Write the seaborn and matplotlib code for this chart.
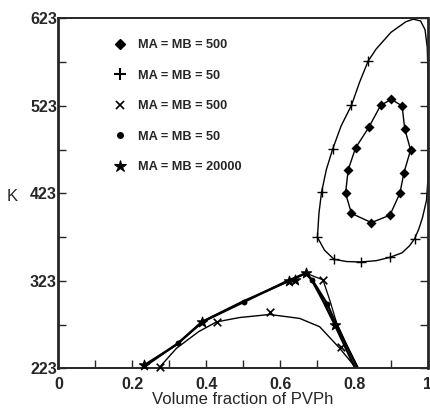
import matplotlib
matplotlib.use("Agg")
import matplotlib.pyplot as plt
from matplotlib.lines import Line2D
import seaborn as sns
import pandas as pd

# ---- data ----
# MA = MB = 500 closed loop (diamonds)
dia_x = [0.901, 0.930, 0.937, 0.953, 0.935, 0.924, 0.897, 0.847, 0.793, 0.777, 0.784, 0.804, 0.840, 0.872, 0.901]
dia_k = [530.4, 522.8, 496.9, 472.5, 446.6, 423.0, 398.0, 389.5, 400.0, 423.0, 449.6, 474.8, 498.4, 523.6, 530.4]

# MA = MB = 50 closed loop (plus) - curve vertices
plus_curve_x = [0.701, 0.705, 0.712, 0.725, 0.742, 0.765, 0.793, 0.815, 0.838, 0.860, 0.900, 0.940, 0.960, 0.980, 0.992, 0.998, 1.000, 1.000, 0.996, 0.985, 0.975, 0.964, 0.950, 0.930, 0.897, 0.860, 0.818, 0.780, 0.746, 0.720, 0.701]
plus_curve_k = [372.7, 400.0, 424.0, 450.0, 473.3, 500.0, 523.6, 550.0, 574.0, 588.0, 607.0, 619.0, 622.0, 620.0, 610.0, 590.0, 560.0, 440.0, 415.0, 395.0, 382.0, 371.2, 363.0, 355.0, 349.8, 346.0, 344.5, 345.0, 347.5, 358.0, 372.7]
plus_mk_x = [0.701, 0.746, 0.818, 0.897, 0.964, 0.712, 0.742, 0.793, 0.838]
plus_mk_k = [372.7, 347.5, 344.5, 349.8, 371.2, 424.5, 473.3, 523.6, 573.9]

# MA = MB = 500 lower curve (x markers)
xs_curve_x = [0.275, 0.320, 0.380, 0.428, 0.490, 0.572, 0.653, 0.707, 0.761, 0.806]
xs_curve_k = [224.8, 246.0, 265.0, 276.0, 281.0, 284.5, 280.0, 270.5, 246.0, 223.0]
xs_branch_x = [0.671, 0.716, 0.735, 0.752, 0.780, 0.812]
xs_branch_k = [331.5, 324.0, 300.0, 276.0, 250.0, 223.0]
xs_mk_x = [0.275, 0.428, 0.572, 0.716, 0.766]
xs_mk_k = [225.0, 276.3, 287.7, 324.0, 247.0]

# MA = MB = 50 lower curve (filled circles)
circ_x = [0.240, 0.323, 0.392, 0.503, 0.620, 0.669, 0.690, 0.727, 0.752, 0.810]
circ_k = [227.0, 251.5, 276.5, 299.0, 323.0, 331.5, 322.0, 297.0, 273.0, 223.0]
circ_mk_x = [0.323, 0.503, 0.685, 0.727]
circ_mk_k = [251.5, 299.0, 324.0, 297.0]

# MA = MB = 20000 lower curve (stars)
star_x = [0.232, 0.320, 0.388, 0.500, 0.631, 0.671, 0.684, 0.716, 0.748, 0.803]
star_k = [226.5, 250.0, 276.0, 299.5, 324.0, 332.0, 325.0, 300.0, 272.5, 223.0]
star_mk_x = [0.232, 0.388, 0.625, 0.640, 0.671, 0.748]
star_mk_k = [226.5, 276.3, 323.0, 324.0, 332.0, 272.5]

labels = ["MA = MB = 500", "MA = MB = 50", "MA = MB = 500", "MA = MB = 50", "MA = MB = 20000"]
xticks = [0, 0.2, 0.4, 0.6, 0.8, 1]
xticklabels = ["0", "0.2", "0.4", "0.6", "0.8", "1"]
yticks = [223, 323, 423, 523, 623]

sns.set_style("ticks")
plt.rcParams['font.family'] = ['Liberation Sans', 'DejaVu Sans']

fig = plt.figure(figsize=(4.31, 4.11), dpi=100)
ax = fig.add_axes([0.1353, 0.1039, 0.8577, 0.8516])

def line(x, k, lw, clip=True):
    df = pd.DataFrame({"x": x, "k": k})
    sns.lineplot(data=df, x="x", y="k", sort=False, estimator=None, color="black",
                 linewidth=lw, ax=ax, clip_on=clip)

def marks(x, k, marker, s, lw=0.0):
    df = pd.DataFrame({"x": x, "k": k})
    sns.scatterplot(data=df, x="x", y="k", marker=marker, s=s, color="black",
                    edgecolor="black", linewidth=lw, ax=ax, clip_on=False, zorder=5)

line(dia_x, dia_k, 1.0)
marks(dia_x[:-1], dia_k[:-1], "D", 26)

line(plus_curve_x, plus_curve_k, 1.0, clip=False)
marks(plus_mk_x, plus_mk_k, "+", 50, 1.0)

line(xs_curve_x, xs_curve_k, 1.0)
line(xs_branch_x, xs_branch_k, 0.9)
marks(xs_mk_x, xs_mk_k, "x", 30, 1.2)

line(circ_x, circ_k, 1.6)
marks(circ_mk_x, circ_mk_k, "o", 18)

line(star_x, star_k, 1.6)
marks(star_mk_x, star_mk_k, "*", 60, 0.8)

ax.set_xlim(0, 1)
ax.set_ylim(223, 623)
ax.set_xticks(xticks)
ax.set_xticklabels(xticklabels)
ax.set_xticks([0.1, 0.3, 0.5, 0.7, 0.9], minor=True)
ax.set_yticks(yticks)
ax.set_yticklabels([str(v) for v in yticks])
ax.set_yticks([273, 373, 473, 573], minor=True)
ax.tick_params(axis="both", which="both", direction="in", right=True, top=False,
               labelsize=11.5, width=1.0)
ax.tick_params(which="major", length=6)
ax.tick_params(which="minor", length=6)
for lab in ax.get_xticklabels() + ax.get_yticklabels():
    lab.set_fontweight("bold")
ax.tick_params(axis="x", which="major", pad=6)
ax.tick_params(axis="y", which="major", pad=1)

for side in ["left", "right"]:
    ax.spines[side].set_linewidth(2.0)
for side in ["top", "bottom"]:
    ax.spines[side].set_linewidth(1.4)

ax.set_xlabel("Volume fraction of PVPh", fontsize=12, labelpad=0)
ax.set_ylabel("K", fontsize=12, rotation=0)
ax.yaxis.set_label_coords(-0.125, 0.47)

handles = [
    Line2D([], [], linestyle="none", marker="D", color="black", markersize=5),
    Line2D([], [], linestyle="none", marker="+", color="black", markersize=8, markeredgewidth=1.5),
    Line2D([], [], linestyle="none", marker="x", color="black", markersize=5.5, markeredgewidth=1.2),
    Line2D([], [], linestyle="none", marker="o", color="black", markersize=4),
    Line2D([], [], linestyle="none", marker="*", color="black", markersize=9, markeredgewidth=0.8),
]
leg = ax.legend(handles, labels, loc="upper left", bbox_to_anchor=(0.135, 0.955),
                frameon=False, fontsize=9.2, labelspacing=1.45, handlelength=1.0,
                handletextpad=0.9, borderaxespad=0)
for t in leg.get_texts():
    t.set_fontweight("bold")

fig.savefig("out.png", dpi=100)
